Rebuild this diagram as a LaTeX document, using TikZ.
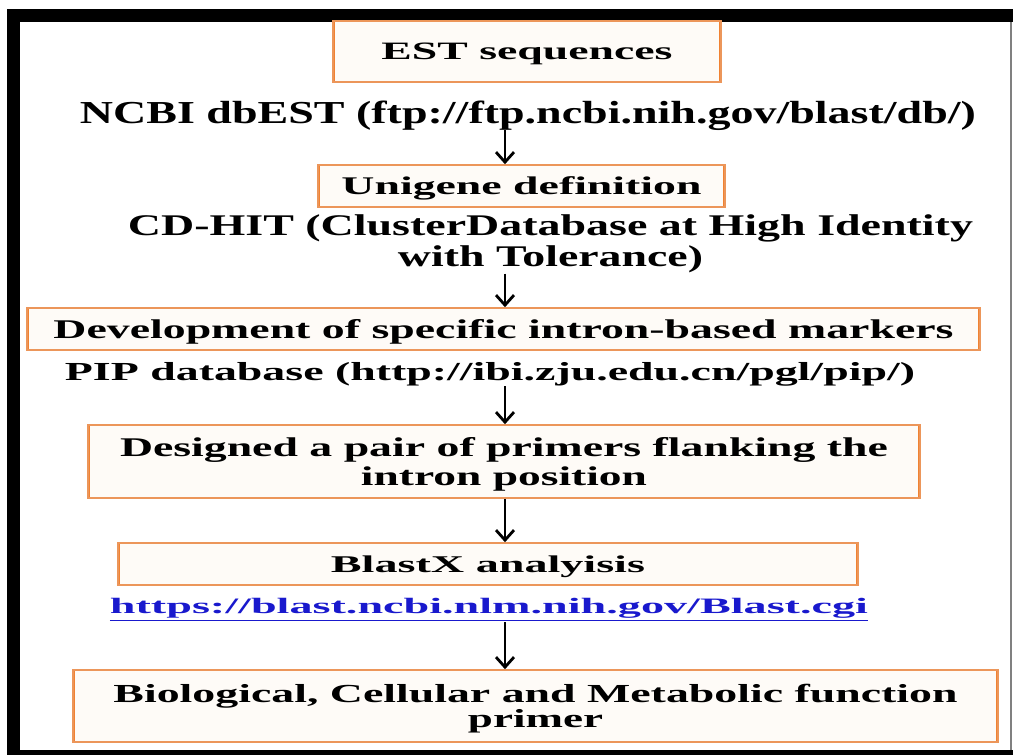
\documentclass[tikz,border=0pt]{standalone}
\usepackage{fontspec}
\setmainfont{Liberation Serif}
\usepackage{graphicx}
\usetikzlibrary{arrows.meta,positioning}
\definecolor{boxedge}{RGB}{236,150,90}
\definecolor{boxside}{RGB}{240,130,50}
\definecolor{boxfill}{RGB}{254,251,247}
\definecolor{linkblue}{RGB}{25,25,205}
\newcommand\fitw[2]{\resizebox{#1pt}{\height}{#2}}
\tikzset{
  stepbox/.style = {draw=boxedge, fill=boxfill, line width=0.8pt,
                    inner sep=0pt, align=center, text depth=0pt,
                    path picture={
                      \draw[boxside,line width=2.4pt]
                        (path picture bounding box.north west) --
                        (path picture bounding box.south west);
                      \draw[boxside,line width=2.4pt]
                        (path picture bounding box.north east) --
                        (path picture bounding box.south east);}},
  source/.style  = {inner sep=0pt, align=center, anchor=base},
  flow/.style    = {-{Straight Barb[length=5pt,width=9pt]}, line width=1.4pt},
}

\begin{document}
\begin{tikzpicture}[x=0.5pt,y=-0.5pt]
  \useasboundingbox (0,0) rectangle (1013,755);

  % frame
  \fill (7,9) rectangle (1013,22);
  \fill (7,9) rectangle (20,755);
  \fill (7,750) rectangle (1013,755);
  \draw[gray,line width=0.6pt] (1011,22) -- (1011,750);

  \coordinate (axis) at (505,0);

  % steps
  \node[stepbox, minimum width=194pt, minimum height=30.5pt,
        font=\bfseries\fontsize{12.5}{15}\selectfont] (est) at (527,51.5)
       {\fitw{145.5}{EST sequences}};
  \node[source, font=\bfseries\fontsize{16}{18}\selectfont] (ncbi) at (528,123)
       {\fitw{448}{NCBI dbEST (ftp://ftp.ncbi.nih.gov/blast/db/)}};

  \node[stepbox, minimum width=203.5pt, minimum height=21pt,
        font=\bfseries\fontsize{12.7}{15}\selectfont] (unigene) at (521.5,186)
       {\fitw{180}{Unigene definition}};
  \node[inner sep=0pt, align=center, font=\bfseries\fontsize{15}{15.5}\selectfont]
       (cdhit) at (550.5,244)
       {\fitw{422.5}{CD-HIT (ClusterDatabase at High Identity}\\
        \fitw{152.5}{with Tolerance)}};

  \node[stepbox, minimum width=476.5pt, minimum height=21pt,
        font=\bfseries\fontsize{13.5}{15}\selectfont] (dev) at (503.5,329)
       {\fitw{450}{Development of specific intron-based markers}};
  \node[source, font=\bfseries\fontsize{13}{15}\selectfont] (pip) at (490,380)
       {\fitw{425}{PIP database (http://ibi.zju.edu.cn/pgl/pip/)}};

  \node[stepbox, minimum width=416pt, minimum height=36.5pt,
        font=\bfseries\fontsize{13.5}{14.5}\selectfont] (primers) at (504,461.5)
       {\fitw{384}{Designed a pair of primers flanking the}\\
        \fitw{143}{intron position}};

  \node[stepbox, minimum width=370pt, minimum height=21pt,
        font=\bfseries\fontsize{12}{15}\selectfont] (blastx) at (488,564)
       {\fitw{157}{BlastX analyisis}};
  \node[source, text=linkblue, font=\bfseries\fontsize{11}{13}\selectfont] (url) at (489,613)
       {\fitw{379}{\underline{https://blast.ncbi.nlm.nih.gov/Blast.cgi}}};

  \node[stepbox, minimum width=462.5pt, minimum height=36pt,
        font=\bfseries\fontsize{13}{12.5}\selectfont] (bio) at (535.5,706)
       {\fitw{422}{Biological, Cellular and Metabolic function}\\
        \fitw{67.5}{primer}};

  % arrows
  \draw[flow] (ncbi.south -| axis) -- (unigene.north -| axis);
  \draw[flow] (cdhit.south -| axis) -- (dev.north -| axis);
  \draw[flow] (pip.south -| axis) -- (primers.north -| axis);
  \draw[flow] (primers.south -| axis) -- (blastx.north -| axis);
  \draw[flow] (url.south -| axis) -- (bio.north -| axis);
\end{tikzpicture}
\end{document}
